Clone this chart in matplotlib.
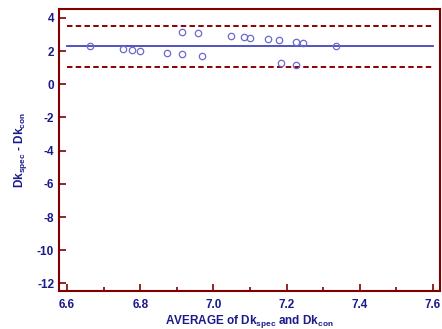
import matplotlib
matplotlib.use("Agg")
import matplotlib.pyplot as plt
from matplotlib.ticker import MultipleLocator

# Bland-Altman style plot: Dk spec vs Dk con
avg_dk = [6.664, 6.754, 6.778, 6.799, 6.874, 6.914, 6.914, 6.959, 6.970,
          7.049, 7.084, 7.099, 7.150, 7.179, 7.184, 7.225, 7.225, 7.245, 7.334]
diff_dk = [2.29, 2.11, 2.05, 2.01, 1.87, 3.17, 1.81, 3.08, 1.69,
           2.90, 2.84, 2.79, 2.71, 2.65, 1.27, 2.53, 1.15, 2.51, 2.33]
mean_diff = 2.30
upper_loa = 3.54
lower_loa = 1.06
x_line = [6.6, 7.6]

plt.rcParams['font.family'] = ['Liberation Sans', 'DejaVu Sans']
plt.rcParams['mathtext.fontset'] = 'custom'
plt.rcParams['mathtext.rm'] = 'Liberation Sans:bold'
plt.rcParams['mathtext.it'] = 'Liberation Sans:bold'
plt.rcParams['axes.unicode_minus'] = False

frame_col = "#800000"
text_col = "#1a1a8a"

fig = plt.figure(figsize=(4.42, 3.29), dpi=100)
ax = fig.add_axes([59/442, 38/329, 381/442, 282/329])

ax.plot(x_line, [upper_loa]*2, color="#8b0000", lw=1.4, ls=(0, (2.8, 1.7)))
ax.plot(x_line, [lower_loa]*2, color="#8b0000", lw=1.4, ls=(0, (2.8, 1.7)))
ax.plot(x_line, [mean_diff]*2, color="#4444bb", lw=1.3)
ax.plot(avg_dk, diff_dk, ls="none", marker="o", ms=4.6, mfc="none",
        mec="#6a6acd", mew=0.9)

ax.set_xlim(6.578, 7.619)
ax.set_ylim(-12.46, 4.54)
ax.xaxis.set_major_locator(MultipleLocator(0.2))
ax.xaxis.set_minor_locator(MultipleLocator(0.1))
ax.yaxis.set_major_locator(MultipleLocator(2))

for s in ax.spines.values():
    s.set_color(frame_col)
    s.set_linewidth(1.5)

ax.tick_params(axis="both", which="major", direction="in", length=5,
               width=1.2, color=frame_col, labelcolor=text_col, labelsize=8.5)
ax.tick_params(axis="x", which="minor", direction="in", length=3,
               width=1.2, color=frame_col)
ax.tick_params(top=False, right=False, which="both")
ax.tick_params(axis="x", pad=6)
for lab in ax.get_xticklabels() + ax.get_yticklabels():
    lab.set_fontweight("bold")

ax.set_xlabel("AVERAGE of Dk$_{\\rm spec}$ and Dk$_{\\rm con}$",
              color=text_col, fontsize=8.5, fontweight="bold", labelpad=1)
ax.set_ylabel("Dk$_{\\rm spec}$ - Dk$_{\\rm con}$",
              color=text_col, fontsize=8.5, fontweight="bold", labelpad=6)

fig.savefig("out.png", dpi=100)
